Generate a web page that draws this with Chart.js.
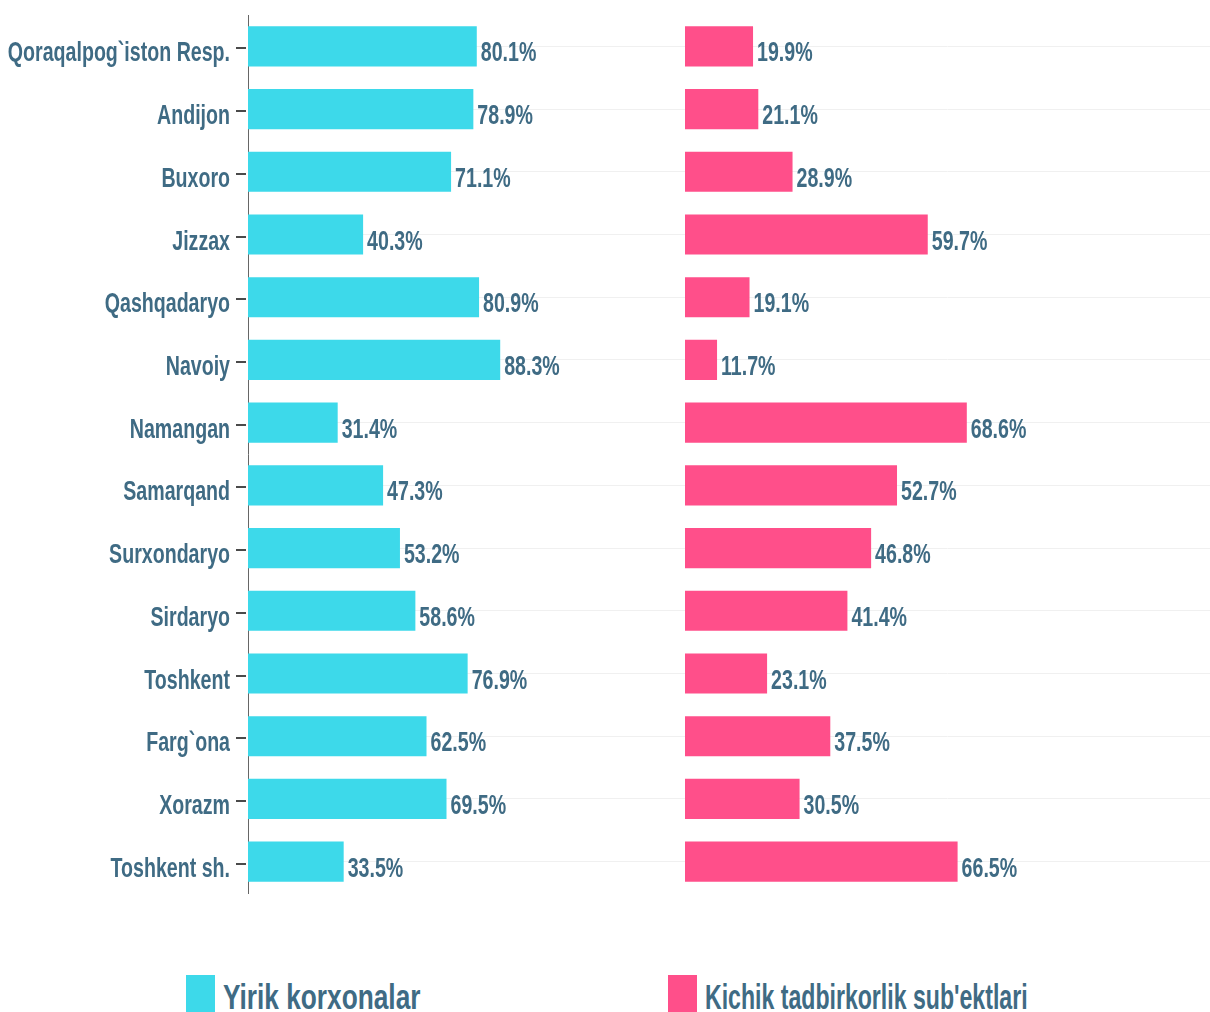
<!DOCTYPE html>
<html lang="uz">
<head>
<meta charset="UTF-8">
<title>Yirik korxonalar va kichik tadbirkorlik</title>
<script src="https://cdn.jsdelivr.net/npm/chart.js"></script>
<style>
  html, body { margin: 0; padding: 0; background: #fff; overflow: hidden; }
  body { width: 1210px; height: 1012px; position: relative; font-family: "Liberation Sans", Arial, sans-serif; }
  .box { position: absolute; top: 0; height: 900px; }
  #leftBox { left: 0; width: 685px; }
  #rightBox { left: 685px; width: 525px; }
  .legend { position: absolute; top: 975px; display: flex; align-items: flex-start; color: #3f6b84; font-weight: bold; font-size: 35px; line-height: 35px; white-space: nowrap; }
  .legend i { display: inline-block; width: 29px; height: 40px; margin-right: 8px; }
  .legend span { display: inline-block; padding-top: 4px; transform-origin: left top; }
</style>
</head>
<body>
<div class="box" id="leftBox"><canvas id="left"></canvas></div>
<div class="box" id="rightBox"><canvas id="right"></canvas></div>
<div class="legend" style="left:186px"><i style="background:#3dd9ea"></i><span style="transform:scaleX(0.75)">Yirik korxonalar</span></div>
<div class="legend" style="left:668px"><i style="background:#ff4f8a"></i><span style="transform:scaleX(0.66)">Kichik tadbirkorlik sub'ektlari</span></div>

<script>
const regions = ['Qoraqalpog`iston Resp.', 'Andijon', 'Buxoro', 'Jizzax', 'Qashqadaryo', 'Navoiy', 'Namangan',
  'Samarqand', 'Surxondaryo', 'Sirdaryo', 'Toshkent', 'Farg`ona', 'Xorazm', 'Toshkent sh.'];
const large = [80.1, 78.9, 71.1, 40.3, 80.9, 88.3, 31.4, 47.3, 53.2, 58.6, 76.9, 62.5, 69.5, 33.5];
const small = [19.9, 21.1, 28.9, 59.7, 19.1, 11.7, 68.6, 52.7, 46.8, 41.4, 23.1, 37.5, 30.5, 66.5];

const textColor = '#3f6b84';
const labelFont = 'bold 28px "Liberation Sans", Arial, sans-serif';
const squeeze = 0.7; // fake a narrow face, no condensed font is installed

function narrowText(ctx, text, x, y, align) {
  ctx.save();
  ctx.translate(x, y);
  ctx.scale(squeeze, 1);
  ctx.textAlign = align;
  ctx.fillText(text, 0, 0);
  ctx.restore();
}

// category names + tick marks left of the axis, value labels at bar ends
const labelsPlugin = {
  id: 'labelsPlugin',
  afterDatasetsDraw(chart, args, opts) {
    const ctx = chart.ctx;
    ctx.save();
    ctx.font = labelFont;
    ctx.fillStyle = textColor;
    ctx.textBaseline = 'alphabetic';
    chart.data.datasets.forEach((ds, i) => {
      chart.getDatasetMeta(i).data.forEach((bar, j) => {
        narrowText(ctx, ds.data[j].toFixed(1) + '%', bar.x + 4, bar.y + 15, 'left');
      });
    });
    if (opts.categories) {
      const y = chart.scales.y;
      ctx.strokeStyle = '#4a4a4a';
      ctx.lineWidth = 2;
      chart.data.labels.forEach((lab, i) => {
        const py = Math.round(y.getPixelForTick(i)) + 2;
        narrowText(ctx, lab, y.right - 18, py + 13, 'right');
        ctx.beginPath();
        ctx.moveTo(y.right - 12, py);
        ctx.lineTo(y.right - 2, py);
        ctx.stroke();
      });
    }
    ctx.restore();
  }
};

function makeChart(id, label, data, color, xMin, xMax, showAxis) {
  return new Chart(document.getElementById(id), {
    type: 'bar',
    data: {
      labels: regions,
      datasets: [{ label: label, data: data, backgroundColor: color, barPercentage: 0.64, categoryPercentage: 1 }]
    },
    options: {
      indexAxis: 'y',
      responsive: true,
      maintainAspectRatio: false,
      animation: false,
      layout: { padding: { top: 15, bottom: 7, right: 0, left: 0 } },
      plugins: {
        legend: { display: false },
        tooltip: { enabled: false },
        labelsPlugin: { categories: showAxis }
      },
      scales: {
        x: { display: false, min: xMin, max: xMax },
        y: {
          afterFit(scale) { scale.width = showAxis ? 248 : 0; },
          border: { display: showAxis, color: '#666', width: 1 },
          grid: { offset: false, color: '#f0f0f0', drawTicks: false },
          ticks: { display: false }
        }
      }
    },
    plugins: [labelsPlugin]
  });
}

makeChart('left', 'Yirik korxonalar', large, '#3dd9ea', 0, 153, true);
makeChart('right', "Kichik tadbirkorlik sub'ektlari", small, '#ff4f8a', 4.4, 124, false);
</script>
</body>
</html>
